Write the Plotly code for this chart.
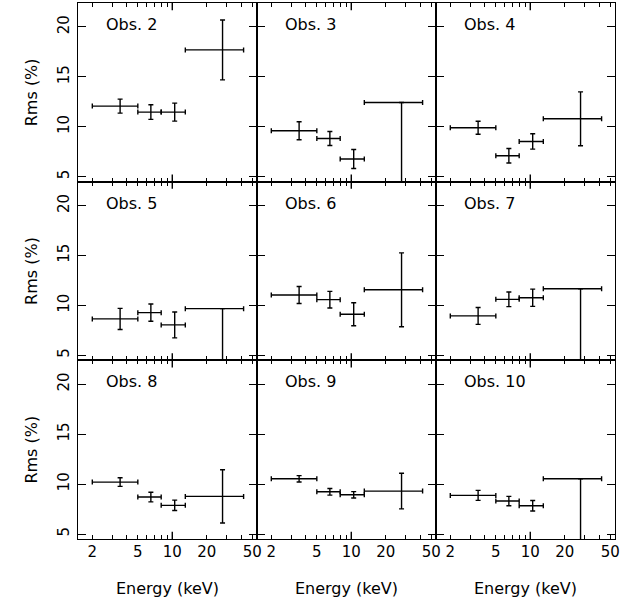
import math
import plotly.graph_objects as go
from plotly.subplots import make_subplots

# ---------------- data ----------------
obs_names = ["Obs. 2", "Obs. 3", "Obs. 4",
             "Obs. 5", "Obs. 6", "Obs. 7",
             "Obs. 8", "Obs. 9", "Obs. 10"]
energy = [3.5, 6.5, 10.5, 27.5]          # keV, bin centres
energy_halfwidth = [1.5, 1.5, 2.5, 14.5]  # bins 2-5, 5-8, 8-13, 13-42 keV

rms_obs2 = [12.07, 11.47, 11.47, 17.7]
err_obs2 = [0.70, 0.73, 0.90, 3.0]
rms_obs3 = [9.6, 8.83, 6.77, 12.43]
err_obs3 = [0.9, 0.7, 0.95, None]     # None -> upper limit
rms_obs4 = [9.9, 7.1, 8.53, 10.8]
err_obs4 = [0.65, 0.73, 0.77, 2.7]
rms_obs5 = [8.65, 9.28, 8.05, 9.68]
err_obs5 = [1.06, 0.86, 1.3, None]
rms_obs6 = [11.04, 10.58, 9.12, 11.57]
err_obs6 = [0.85, 0.83, 1.15, 3.7]
rms_obs7 = [8.95, 10.61, 10.77, 11.67]
err_obs7 = [0.85, 0.73, 0.86, None]
rms_obs8 = [10.2, 8.7, 7.87, 8.77]
err_obs8 = [0.43, 0.48, 0.52, 2.67]
rms_obs9 = [10.53, 9.23, 8.93, 9.3]
err_obs9 = [0.32, 0.33, 0.32, 1.78]
rms_obs10 = [8.87, 8.3, 7.83, 10.53]
err_obs10 = [0.5, 0.47, 0.52, None]

all_rms = [rms_obs2, rms_obs3, rms_obs4, rms_obs5, rms_obs6,
           rms_obs7, rms_obs8, rms_obs9, rms_obs10]
all_err = [err_obs2, err_obs3, err_obs4, err_obs5, err_obs6,
           err_obs7, err_obs8, err_obs9, err_obs10]

x_tickvals = [2, 3, 4, 5, 6, 7, 8, 9, 10, 20, 30, 40, 50]
x_ticktext = ["2", "", "", "5", "", "", "", "", "10", "20", "", "", "50"]
y_tickvals = [5, 10, 15, 20]
x_range = [1.5, 55]
y_range = [4.5, 22.4]

# ---------------- figure ----------------
FONT = "DejaVu Sans"
fig = make_subplots(rows=3, cols=3, horizontal_spacing=0, vertical_spacing=0)

for i, (name, rms, err) in enumerate(zip(obs_names, all_rms, all_err)):
    r, c = i // 3 + 1, i % 3 + 1
    plus = [0 if e is None else e for e in err]
    minus = [v if e is None else e for v, e in zip(rms, err)]
    fig.add_trace(go.Scatter(
        x=energy, y=rms, mode="markers",
        marker=dict(size=0.1, color="black"),
        error_x=dict(type="data", array=energy_halfwidth, symmetric=True,
                     color="black", thickness=1.4, width=2.5),
        error_y=dict(type="data", array=plus, arrayminus=minus, symmetric=False,
                     color="black", thickness=1.4, width=2.5),
        showlegend=False, hoverinfo="skip"), row=r, col=c)

    n = "" if i == 0 else str(i + 1)
    fig.add_annotation(text=name, xref=f"x{n} domain", yref=f"y{n} domain",
                       x=0.145, y=0.88, xanchor="left", yanchor="middle",
                       showarrow=False, font=dict(family=FONT, size=16, color="black"))
    for y0, y1 in [(0, 0.04), (1, 0.96)]:
        fig.add_shape(type="line", xref=f"x{n}", yref=f"y{n} domain",
                      x0=10, x1=10, y0=y0, y1=y1,
                      line=dict(color="black", width=1.4))

    fig.update_xaxes(type="log", range=[math.log10(x_range[0]), math.log10(x_range[1])],
                     tickvals=x_tickvals, ticktext=x_ticktext,
                     ticks="inside", ticklen=4, tickwidth=1.3, tickcolor="black",
                     showline=True, linecolor="black", linewidth=1.1, mirror="allticks",
                     showgrid=False, zeroline=False, automargin=False,
                     showticklabels=(r == 3), ticklabelstandoff=-1,
                     tickfont=dict(family=FONT, size=15, color="black"),
                     title=dict(text="Energy (keV)" if r == 3 else "",
                                font=dict(family=FONT, size=16, color="black"),
                                standoff=22),
                     row=r, col=c)
    fig.update_yaxes(range=y_range, tickvals=y_tickvals,
                     ticks="inside", ticklen=8, tickwidth=1.3, tickcolor="black",
                     showline=True, linecolor="black", linewidth=1.1, mirror="allticks",
                     showgrid=False, zeroline=False, automargin=False,
                     showticklabels=(c == 1), tickangle=-90,
                     ticklabelstandoff=2,
                     tickfont=dict(family=FONT, size=15, color="black"),
                     title=dict(text="Rms (%)" if c == 1 else "",
                                font=dict(family=FONT, size=16, color="black"),
                                standoff=13),
                     row=r, col=c)

fig.update_layout(width=632, height=602,
                  margin=dict(l=78, r=17, t=3, b=63),
                  paper_bgcolor="white", plot_bgcolor="white",
                  font=dict(family=FONT, color="black"))

fig.write_html("out.html", config={"displayModeBar": False},
               post_script="document.body.style.margin='0';")
